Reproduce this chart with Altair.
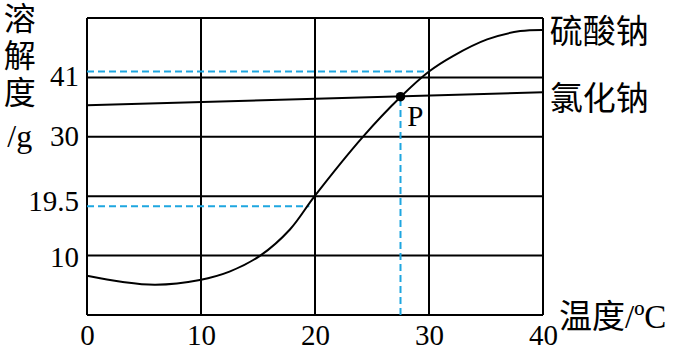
import altair as alt
import pandas as pd

# ---- data ----
na2so4_t = [0, 3, 6, 9.9, 12.5, 15.2, 17.8, 20.0, 24.2, 27.5, 30, 32.1, 35.1, 38.0, 40]
na2so4_s = [6.6, 5.6, 5.1, 5.9, 7.3, 10.0, 14.4, 20.1, 30.0, 36.7, 41, 43.6, 46.4, 47.8, 48.0]
nacl_t = [0, 40]
nacl_s = [35.3, 37.5]

x_grid = [0, 10, 20, 30, 40]
y_grid = [0, 10, 20, 30, 40, 50]
x_ticks = [0, 10, 20, 30, 40]
y_tick_labels = ["10", "19.5", "30", "41"]
y_tick_pos = [9.6, 19.1, 30, 40.1]

p_t, p_s = 27.5, 36.75
h_dash_y = [41, 18.3]
h_dash_x2 = [30, 19.5]

SERIF = "'Liberation Serif', 'Noto Sans CJK SC'"
BLUE = "#1ea6e0"

X = alt.X("x:Q", scale=alt.Scale(domain=[0, 40], nice=False, zero=False),
          axis=alt.Axis(values=x_ticks, grid=False, domain=False, ticks=False,
                        labelFont=SERIF, labelFontSize=29, labelColor="black",
                        labelPadding=6, title=None, labelFlush=False))
Y = alt.Y("y:Q", scale=alt.Scale(domain=[0, 50], nice=False, zero=False), axis=None)

vgrid = alt.Chart(pd.DataFrame({"x": x_grid})).mark_rule(color="black", strokeWidth=2).encode(x=X)
hgrid = alt.Chart(pd.DataFrame({"y": y_grid})).mark_rule(color="black", strokeWidth=2).encode(y=Y)

hdash = alt.Chart(pd.DataFrame({"y": h_dash_y, "x": [0, 0], "x2": h_dash_x2})).mark_rule(
    color=BLUE, strokeWidth=2, strokeDash=[7, 4]).encode(x=X, x2="x2:Q", y=Y)
vdash = alt.Chart(pd.DataFrame({"x": [p_t], "y": [0], "y2": [p_s]})).mark_rule(
    color=BLUE, strokeWidth=2, strokeDash=[7, 4]).encode(x=X, y=Y, y2="y2:Q")

curve1 = alt.Chart(pd.DataFrame({"x": na2so4_t, "y": na2so4_s})).mark_line(
    color="black", strokeWidth=2, interpolate="catmull-rom").encode(x=X, y=Y)
curve2 = alt.Chart(pd.DataFrame({"x": nacl_t, "y": nacl_s})).mark_line(
    color="black", strokeWidth=2).encode(x=X, y=Y)

point = alt.Chart(pd.DataFrame({"x": [p_t], "y": [p_s]})).mark_point(
    filled=True, color="black", size=90, opacity=1).encode(x=X, y=Y)

ylab = alt.Chart(pd.DataFrame({"x": [-0.7] * 4, "y": y_tick_pos, "t": y_tick_labels})).mark_text(
    font=SERIF, fontSize=29, align="right", baseline="middle", color="black").encode(x=X, y=Y, text="t:N")

ytitle = alt.Chart(pd.DataFrame({"x": [-5.9] * 4, "y": [49.7, 43.5, 37.2, 30.0], "t": ["溶", "解", "度", "/g"]})).mark_text(
    font=SERIF, fontSize=32, align="center", baseline="middle", color="black").encode(x=X, y=Y, text="t:N")

labels = alt.Chart(pd.DataFrame({
    "x": [40.6, 40.6, 41.4],
    "y": [47.4, 36.2, -0.5],
    "t": ["硫酸钠", "氯化钠", "温度/ºC"],
})).mark_text(font=SERIF, fontSize=33, align="left", baseline="middle", color="black").encode(
    x=X, y=Y, text="t:N")

plabel = alt.Chart(pd.DataFrame({"x": [28.1], "y": [33.4], "t": ["P"]})).mark_text(
    font=SERIF, fontSize=29, align="left", baseline="middle", color="black").encode(x=X, y=Y, text="t:N")

chart = alt.layer(vgrid, hgrid, hdash, vdash, curve1, curve2, point, ylab, ytitle, labels, plabel).properties(
    width=456, height=297,
    autosize=alt.AutoSizeParams(type="none"),
    padding={"left": 87, "top": 18, "right": 133, "bottom": 38},
    background="white",
).configure_view(strokeWidth=0)

chart.save("out.html", embed_options={"renderer": "svg", "actions": False})
